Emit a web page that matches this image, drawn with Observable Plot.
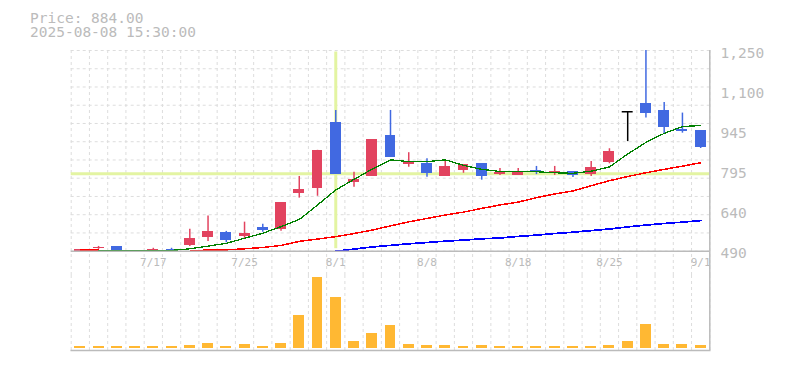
<!DOCTYPE html>
<html><head><meta charset="utf-8">
<script src="https://cdn.jsdelivr.net/npm/d3@7"></script>
<script src="https://cdn.jsdelivr.net/npm/@observablehq/plot@0.6"></script>
<style>
body{margin:0;background:#fff;width:785px;height:370px;overflow:hidden;position:relative;font-family:"DejaVu Sans Mono",monospace;}
#title{position:absolute;left:30px;top:11px;font-size:14.5px;line-height:14.4px;color:#bbb;white-space:pre;z-index:5;}
#price{position:absolute;left:0;top:0;}
#volume{position:absolute;left:0;top:275px;}
</style></head><body>
<div id="price"></div>
<div id="volume"></div>
<div id="title"></div>
<script>
// ---- data ----
const titleLines = ["Price: 884.00", "2025-08-08 15:30:00"];
const dates = ["7/11","7/14","7/15","7/16","7/17","7/18","7/22","7/23","7/24","7/25","7/28","7/29","7/30","7/31","8/1","8/4","8/5","8/6","8/7","8/8","8/12","8/13","8/14","8/15","8/18","8/19","8/20","8/21","8/22","8/25","8/26","8/27","8/28","8/29","9/1"];
const open  = [490,502,508,491,490,495,512,542,561,547,580,572,710,729,977,751,774,930,817,821,774,797,822,780,778,796,787,792,780,827,1018,1049,1023,952,947];
const high  = [495,508,508,492,501,501,573,623,565,600,592,674,773,872,1023,789,913,1023,863,840,837,818,822,803,803,811,811,792,830,878,1018,1250,1053,1013,947];
const low   = [490,497,485,490,490,490,508,527,522,537,562,566,691,698,782,732,774,846,808,770,774,785,759,777,778,780,777,769,773,821,905,994,935,937,879];
const close = [495,504,485,491,495,490,539,565,532,558,570,674,724,872,782,763,913,846,830,785,811,818,774,788,788,791,792,778,807,868,1018,1012,960,944,884];
const volume = [17,17,17,17,17,17,27,47,17,37,17,47,327,710,507,67,147,227,37,27,27,17,27,17,17,17,17,17,17,27,67,237,37,37,27];
const ma5  = [null,493,493,493,493,493,499,509,520,539,558,583,610,665,722,762,801,836,829,829,836,815,800,792,792,791,787,785,793,809,858,902,936,962,966];
const ma25 = [495,495,null,null,null,null,490,495,495,499,504,512,527,536,545,557,570,586,601,614,627,638,652,665,676,693,707,718,738,757,773,787,800,812,825];
const ma75 = [null,null,null,null,null,null,null,null,null,null,null,null,null,null,490,498,506,512,518,523,528,532,537,540,546,551,557,562,568,574,582,589,595,600,606];
const yTicks = [490,642,794,946,1098,1250];
const yTickLabels = ["490","640","795","945","1,100","1,250"];
const xTickLabels = ["7/17","7/25","8/1","8/8","8/18","8/25","9/1"];
const crossDate = "8/1";
const crossPrice = 783;

// ---- styles ----
const UP = "#e2435f", DOWN = "#4169e1", FLAT = "#000000";
const VOL = "#ffb833", GRID = "#dddddd", AXIS = "#bbbbbb", CROSS = "#e3f4a2";
const FONT = "DejaVu Sans Mono, monospace";

document.getElementById("title").textContent = titleLines.join("\n");

const rows = dates.map((d, i) => ({i, date: d, o: open[i], h: high[i], l: low[i], c: close[i], v: volume[i], ma5: ma5[i], ma25: ma25[i], ma75: ma75[i]}));
const col = r => r.c > r.o ? UP : r.c < r.o ? DOWN : FLAT;
const N = dates.length;
const gridY = d3.range(12).map(k => yTicks[0] + k * (yTicks[yTicks.length-1] - yTicks[0]) / 11);
const xc = d => d.i + 0.5;

const M = {marginLeft: 70.7, marginRight: 75.7};

const price = Plot.plot({
  width: 785, height: 275, marginTop: 50, marginBottom: 24.3, ...M,
  x: {type: "linear", domain: [0, N], axis: null},
  y: {domain: [yTicks[0], yTicks[yTicks.length-1]], axis: null},
  style: {fontFamily: FONT, background: "transparent", overflow: "visible"},
  marks: [
    Plot.ruleY(gridY, {stroke: GRID, strokeDasharray: "3,3"}),
    Plot.ruleX(d3.range(N + 1), {stroke: GRID, strokeDasharray: "3,3", insetBottom: -24.3}),
    Plot.ruleX([dates.indexOf(crossDate) + 0.5], {stroke: CROSS, strokeWidth: 3, insetTop: 1.5, insetBottom: 2.5}),
    Plot.ruleY([crossPrice], {stroke: CROSS, strokeWidth: 3}),
    Plot.ruleX(rows, {x: xc, y1: "l", y2: "h", stroke: col, strokeWidth: 1.5}),
    Plot.rect(rows.filter(r => r.o !== r.c), {x1: d => d.i + 0.2, x2: d => d.i + 0.8, y1: d => Math.min(d.o, d.c), y2: d => Math.max(d.o, d.c), fill: col, shapeRendering: "crispEdges"}),
    Plot.ruleY(rows.filter(r => r.o === r.c), {x1: d => d.i + 0.2, x2: d => d.i + 0.8, y: "o", stroke: col, strokeWidth: 1.5}),
    Plot.line(rows, {x: xc, y: "ma75", stroke: "#0000ff", strokeWidth: 1.7, shapeRendering: "crispEdges"}),
    Plot.line(rows, {x: xc, y: "ma25", stroke: "#ff0000", strokeWidth: 1.5, shapeRendering: "crispEdges"}),
    Plot.line(rows, {x: xc, y: "ma5", stroke: "#008000", strokeWidth: 1.3, shapeRendering: "crispEdges"}),
    Plot.ruleY([yTicks[0]], {stroke: AXIS, strokeWidth: 1.5}),
    Plot.ruleX([N], {stroke: AXIS, strokeWidth: 1.5, insetBottom: -24.3}),
    Plot.axisY(yTicks, {anchor: "right", tickSize: 0, tickPadding: 10.7, textAnchor: "start", label: null,
      tickFormat: d => yTickLabels[yTicks.indexOf(d)], fontSize: 14.5, color: AXIS, dy: 2.5}),
    Plot.axisX(xTickLabels.map(l => dates.indexOf(l) + 0.5), {anchor: "bottom", tickSize: 0, tickPadding: 7, label: null,
      tickFormat: d => dates[Math.floor(d)], fontSize: 11, color: AXIS})
  ]
});
document.getElementById("price").appendChild(price);

const vol = Plot.plot({
  width: 785, height: 80, marginTop: 0, marginBottom: 5, ...M,
  x: {type: "linear", domain: [0, N], axis: null},
  y: {domain: [0, d3.max(volume)], range: [72.7, 1.7], axis: null},
  style: {fontFamily: FONT, background: "transparent", overflow: "visible"},
  marks: [
    Plot.ruleX(d3.range(N + 1), {stroke: GRID, strokeDasharray: "3,3"}),
    Plot.rectY(rows, {x1: d => d.i + 0.2, x2: d => d.i + 0.8, y: "v", fill: VOL, shapeRendering: "crispEdges"}),
    Plot.frame({anchor: "bottom", stroke: AXIS, strokeWidth: 1.5}),
    Plot.ruleX([N], {stroke: AXIS, strokeWidth: 1.5})
  ]
});
document.getElementById("volume").appendChild(vol);
</script>
</body></html>
